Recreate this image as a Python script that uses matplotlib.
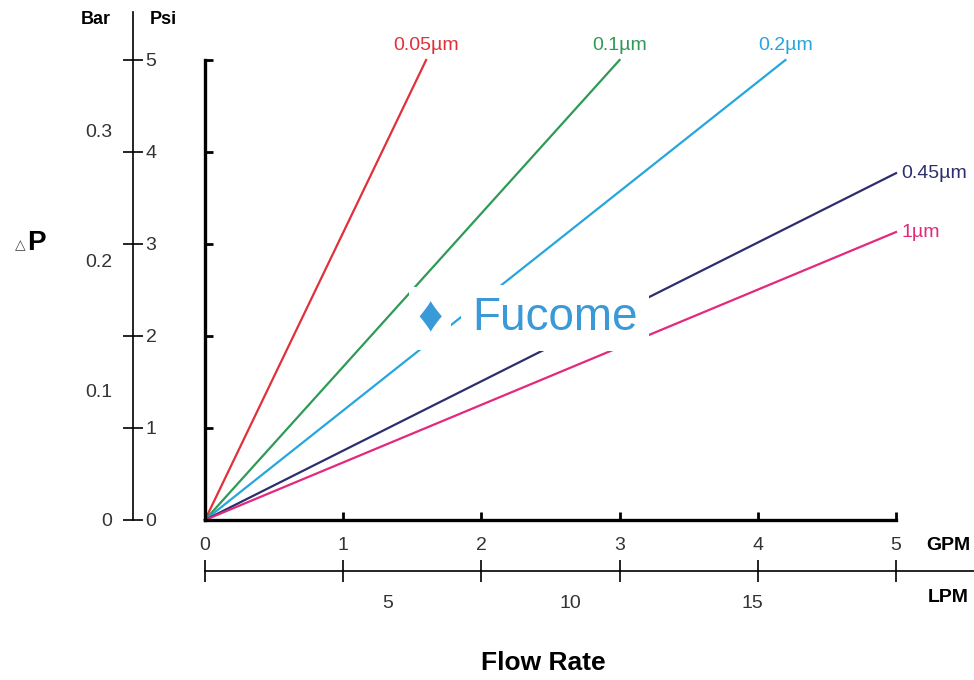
import matplotlib
matplotlib.use("Agg")
import matplotlib.pyplot as plt

plt.rcParams['font.family'] = ['Liberation Sans', 'DejaVu Sans']

# filter grades and the end point of each straight line (GPM, psi)
grades = ["0.05µm", "0.1µm", "0.2µm", "0.45µm", "1µm"]
end_gpm = [1.6, 3.0, 4.2, 5.0, 5.0]
end_psi = [5.0, 5.0, 5.0, 3.77, 3.13]
colors = ["#e0313a", "#2f9a55", "#27a6dc", "#2d2e70", "#e2297c"]

psi_ticks = [0, 1, 2, 3, 4, 5]
bar_ticks = [0, 0.1, 0.2, 0.3]
gpm_ticks = [0, 1, 2, 3, 4, 5]
lpm_ticks = [0, 5, 10, 15]
PSI_PER_BAR = 14.1
LPM_PER_GPM = 3.785

TICK_FS = 14
W, H = 974, 680
fig = plt.figure(figsize=(W / 100, H / 100), dpi=100)

# main plot area: x 205..896 px, y 520..60 px
ax = fig.add_axes([205 / W, (H - 520) / H, 691 / W, 460 / H])
ax.set_xlim(0, 5)
ax.set_ylim(0, 5)
for s in ("top", "right"):
    ax.spines[s].set_visible(False)
for s in ("left", "bottom"):
    ax.spines[s].set_linewidth(2.4)
ax.set_xticks(gpm_ticks)
ax.set_yticks(psi_ticks)
ax.tick_params(axis="both", direction="in", length=6, width=2)
ax.tick_params(axis="y", labelleft=False)
ax.tick_params(axis="x", pad=12, labelsize=TICK_FS, labelcolor="#333333")

for g, x1, y1, c in zip(grades, end_gpm, end_psi, colors):
    ax.plot([0, x1], [0, y1], color=c, lw=1.6, clip_on=False)
    if y1 >= 5:
        ax.text(x1, y1 + 0.07, g, color=c, fontsize=14, ha="center", va="bottom")
    else:
        ax.text(x1 + 0.04, y1, g, color=c, fontsize=14, ha="left", va="center")

# watermark
fig.text(555 / W, (H - 318) / H, "Fucome", fontsize=33,
         color="#3a9ad8", ha="center", va="center",
         bbox=dict(facecolor="white", edgecolor="none", pad=8))
fig.text(430 / W, (H - 318) / H, "\u2666", fontsize=36,
         color="#3a9ad8", ha="center", va="center",
         bbox=dict(facecolor="white", edgecolor="none", pad=6))

fig.text(948 / W, (H - 545) / H, "GPM", fontsize=14, fontweight="bold",
         ha="center", va="center")

# psi / bar axis on the far left
ax_p = fig.add_axes([133 / W, (H - 520) / H, 0.0001, 508 / H])
ax_p.set_ylim(0, 5 * 508 / 460)
ax_p.set_xticks([])
for s in ("top", "right", "bottom"):
    ax_p.spines[s].set_visible(False)
ax_p.spines["left"].set_linewidth(1.2)
ax_p.set_yticks(psi_ticks)
ax_p.tick_params(axis="y", direction="inout", length=14, width=1.2,
                 left=True, right=False, labelleft=False, labelright=True,
                 labelsize=TICK_FS, labelcolor="#333333", pad=2)
sec = ax_p.secondary_yaxis("left", functions=(lambda p: p / PSI_PER_BAR,
                                              lambda b: b * PSI_PER_BAR))
sec.set_yticks(bar_ticks)
sec.set_yticklabels(["0", "0.1", "0.2", "0.3"])
sec.spines["left"].set_visible(False)
sec.tick_params(length=0, pad=15, labelsize=TICK_FS, labelcolor="#333333")

fig.text(96 / W, (H - 20) / H, "Bar", fontsize=13, fontweight="bold",
         ha="center", va="center")
fig.text(163 / W, (H - 20) / H, "Psi", fontsize=13, fontweight="bold",
         ha="center", va="center")
fig.text(20 / W, (H - 245) / H, "\u25b3", fontsize=10, color="#444444",
         ha="center", va="center")
fig.text(36 / W, (H - 243) / H, "P", fontsize=20, fontweight="bold",
         ha="center", va="center")

# LPM axis
ax_l = fig.add_axes([205 / W, (H - 571) / H, (W - 205) / W, 0.0001])
ax_l.set_xlim(0, 5 * (W - 205) / 691)
ax_l.set_yticks([])
for s in ("top", "right", "left"):
    ax_l.spines[s].set_visible(False)
ax_l.spines["bottom"].set_linewidth(1.2)
ax_l.set_xticks(gpm_ticks)
ax_l.set_xticklabels([])
ax_l.set_xticks([v / LPM_PER_GPM for v in lpm_ticks], minor=True)
ax_l.set_xticklabels([str(v) for v in lpm_ticks], minor=True)
ax_l.tick_params(axis="x", which="major", direction="inout", length=16, width=1.2)
ax_l.tick_params(axis="x", which="minor", length=0, pad=17, labelsize=TICK_FS,
                 labelcolor="#333333")
fig.text(948 / W, (H - 598) / H, "LPM", fontsize=14, fontweight="bold",
         ha="center", va="center")

fig.text(543 / W, (H - 663) / H, "Flow Rate", fontsize=19, fontweight="bold",
         ha="center", va="center")

fig.savefig("out.png", dpi=100)
